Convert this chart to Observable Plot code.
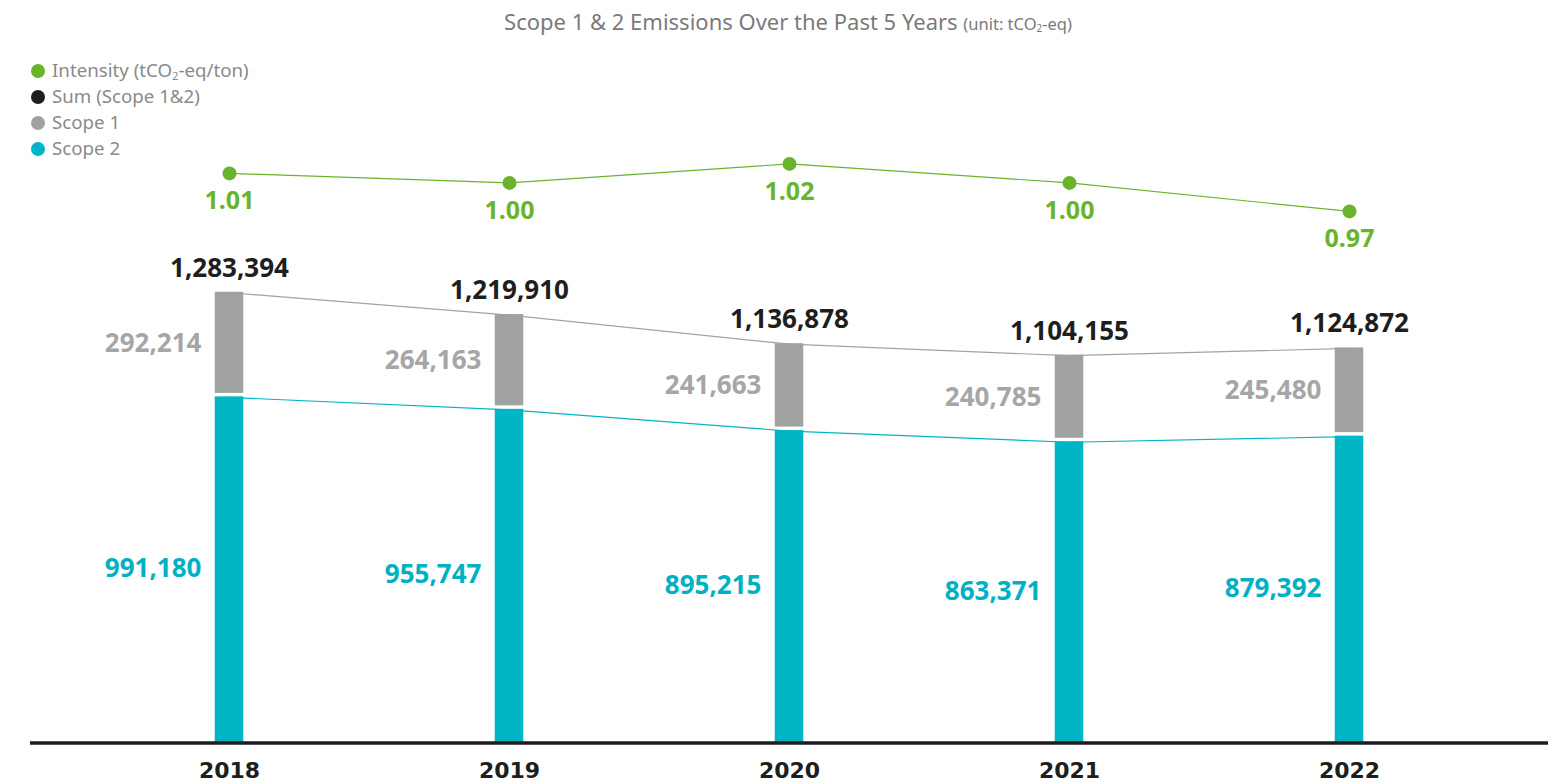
<!DOCTYPE html>
<html><head><meta charset="utf-8">
<script src="https://cdn.jsdelivr.net/npm/d3@7"></script>
<script src="https://cdn.jsdelivr.net/npm/@observablehq/plot@0.6"></script>
<style>
body{margin:0;background:#fff;width:1560px;height:784px;overflow:hidden;position:relative;font-family:"Noto Sans",sans-serif;}
#title{position:absolute;top:6px;left:788px;transform:translateX(-50%);white-space:nowrap;font-size:22px;color:#7a7a7a;}
#title small{font-size:16.5px;}
sub{font-size:0.6em;vertical-align:-0.25em;line-height:0}
#legend{position:absolute;left:31px;top:57px;font-size:18.7px;color:#8a8a8a;line-height:26px;z-index:2}
.sw{display:inline-block;width:14px;height:14px;border-radius:50%;margin-right:7px;vertical-align:-1px}
#chart{position:absolute;top:44px;left:0}
</style></head>
<body>
<div id="title">Scope 1 &amp; 2 Emissions Over the Past 5 Years <small>(unit: tCO<sub>2</sub>-eq)</small></div>
<div id="legend"></div>
<div id="chart"></div>
<script>
const years = ["2018", "2019", "2020", "2021", "2022"];
const scope1 = [292214, 264163, 241663, 240785, 245480];
const scope2 = [991180, 955747, 895215, 863371, 879392];
const totals = [1283394, 1219910, 1136878, 1104155, 1124872];
const intensity = [1.01, 1.00, 1.02, 1.00, 0.97];
const legendLabels = ["Intensity (tCO<sub>2</sub>-eq/ton)", "Sum (Scope 1&amp;2)", "Scope 1", "Scope 2"];
const legendColors = ["#6ab42d", "#1e1e1e", "#a0a2a1", "#00b5c6"];

const GREEN = legendColors[0], BLACK = legendColors[1], GRAY = legendColors[2], TEAL = legendColors[3];

// secondary axis: intensity mapped into the emissions scale
const intensityToY = v => 1594800 + 2705000 * (v - 1);

document.getElementById("legend").innerHTML = legendLabels
  .map((l, i) => `<div><span class="sw" style="background:${legendColors[i]}"></span>${l}</div>`).join("");

const data = years.map((year, i) => ({
  year, s1: scope1[i], s2: scope2[i], total: totals[i], int: intensity[i], intY: intensityToY(intensity[i])
}));
const fmt = d3.format(",");
const barInset = 125.75;

const plot = Plot.plot({
  width: 1560, height: 740,
  marginLeft: 87.75, marginRight: 69.75, marginTop: 60, marginBottom: 41.5,
  x: {type: "band", domain: years, padding: 0, label: null},
  y: {domain: [0, 1818000], axis: null},
  style: {fontFamily: "Noto Sans", background: "white", color: BLACK},
  marks: [
    Plot.axisX({tickSize: 0, tickPadding: 19, fontSize: 22, fontWeight: "bold", fontFamily: "DejaVu Sans", label: null}),
    Plot.line(data, {x: "year", y: "total", stroke: "#a3a3a3", strokeWidth: 1.2, dy: 0.5}),
    Plot.line(data, {x: "year", y: "s2", stroke: TEAL, strokeWidth: 1.2, dy: 2.5}),
    Plot.barY(data, {x: "year", y1: 0, y2: "s2", fill: TEAL, insetLeft: barInset, insetRight: barInset, insetTop: 2}),
    Plot.barY(data, {x: "year", y1: "s2", y2: "total", fill: GRAY, insetLeft: barInset, insetRight: barInset, insetBottom: 1.5}),
    Plot.ruleY([0], {stroke: BLACK, strokeWidth: 3.5, insetLeft: -57.75, insetRight: -57.75}),
    Plot.text(data, {x: "year", y: "total", text: d => fmt(d.total), dy: -24, fill: BLACK, fontSize: 26, fontWeight: "bold"}),
    Plot.text(data, {x: "year", y: d => d.s2 + d.s1 / 2, text: d => fmt(d.s1), textAnchor: "end", dx: -28, fill: "#a6a6a6", fontSize: 26, fontWeight: "bold"}),
    Plot.text(data, {x: "year", y: d => d.s2 / 2, text: d => fmt(d.s2), textAnchor: "end", dx: -28, fill: "#00b1c3", fontSize: 26, fontWeight: "bold"}),
    Plot.line(data, {x: "year", y: "intY", stroke: GREEN, strokeWidth: 1.2}),
    Plot.dot(data, {x: "year", y: "intY", r: 7, fill: GREEN, stroke: "none"}),
    Plot.text(data, {x: "year", y: "intY", text: d => d.int.toFixed(2), dy: 28, fill: GREEN, fontSize: 25, fontWeight: "bold"})
  ]
});
document.getElementById("chart").appendChild(plot);
</script>
</body></html>
